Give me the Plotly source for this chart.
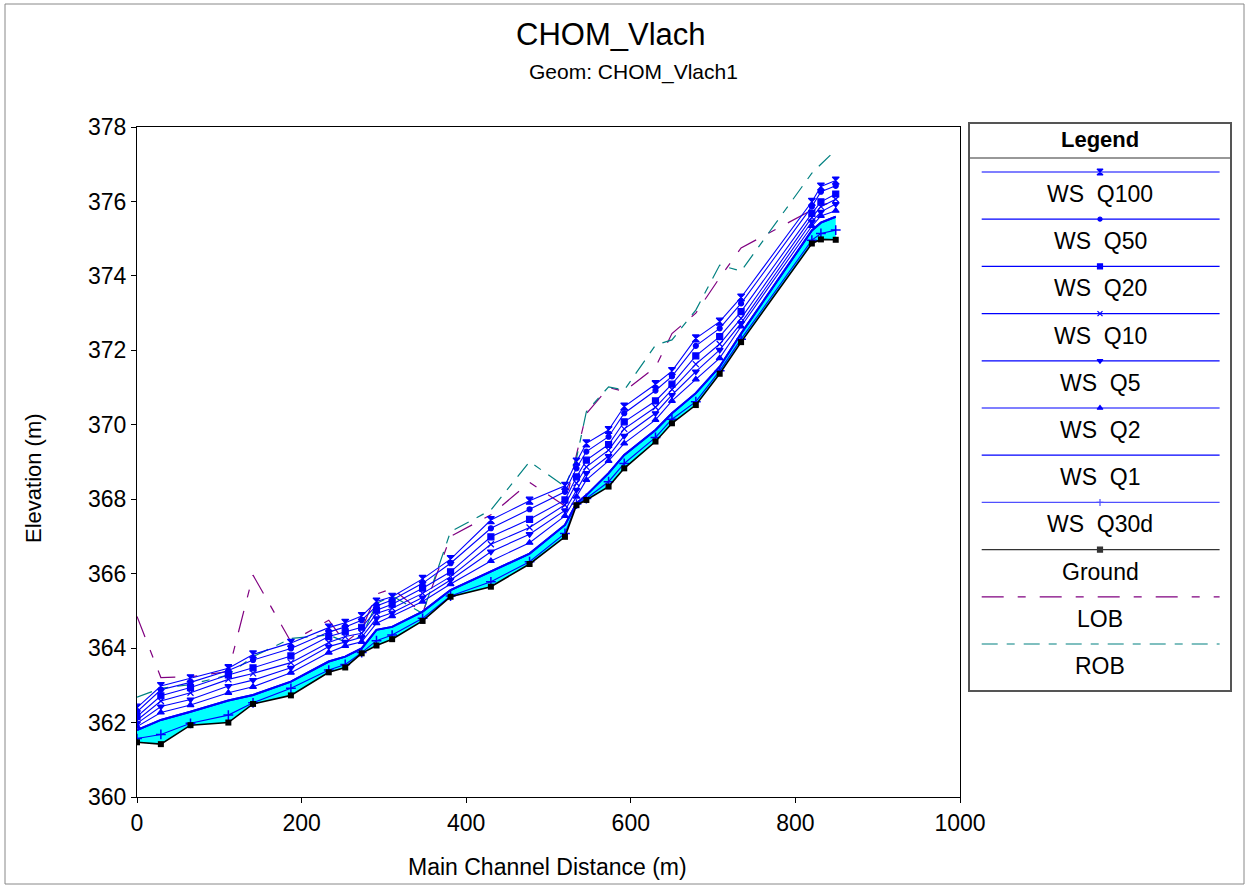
import plotly.graph_objects as go

stations = [0, 29, 65, 111, 141, 187, 233, 253, 273, 291, 310, 347, 381, 430, 477, 520,
            534, 546, 573, 592, 630, 650, 679, 708, 734, 820, 831, 849]

ground = [361.47, 361.42, 361.93, 362.00, 362.50, 362.73, 363.35, 363.48, 363.86, 364.07, 364.24,
          364.73, 365.38, 365.65, 366.26, 366.99, 367.84, 367.98, 368.34, 368.83, 369.55, 370.04,
          370.53, 371.37, 372.22, 374.87, 374.98, 374.97]
ws_q30d = [361.57, 361.68, 361.98, 362.20, 362.53, 362.92, 363.41, 363.56, 363.88, 364.20, 364.35,
           364.80, 365.40, 365.78, 366.32, 367.08, 367.87, 368.02, 368.47, 368.96, 369.66, 370.15,
           370.62, 371.45, 372.30, 374.96, 375.14, 375.23]
ws_q1 = [361.80, 362.07, 362.29, 362.59, 362.74, 363.10, 363.64, 363.77, 363.99, 364.49, 364.57,
         364.98, 365.56, 366.05, 366.54, 367.31, 367.89, 368.11, 368.70, 369.19, 369.86, 370.31,
         370.85, 371.56, 372.45, 375.22, 375.43, 375.59]
ws_q2 = [361.89, 362.27, 362.47, 362.80, 362.96, 363.34, 363.88, 364.06, 364.17, 364.67, 364.86,
         365.25, 365.72, 366.34, 366.83, 367.55, 368.07, 368.52, 369.03, 369.50, 370.13, 370.64,
         371.22, 371.79, 372.64, 375.34, 375.61, 375.75]
ws_q5 = [361.98, 362.43, 362.62, 362.98, 363.14, 363.47, 364.04, 364.17, 364.29, 364.80, 364.95,
         365.36, 365.83, 366.59, 367.06, 367.70, 368.25, 368.70, 369.16, 369.70, 370.31, 370.80,
         371.43, 372.01, 372.73, 375.46, 375.72, 375.93]
ws_q10 = [362.06, 362.58, 362.80, 363.16, 363.32, 363.61, 364.15, 364.31, 364.40, 364.93, 365.07,
          365.47, 365.92, 366.79, 367.24, 367.85, 368.43, 368.87, 369.32, 369.89, 370.47, 370.95,
          371.63, 372.17, 372.86, 375.57, 375.86, 376.06]
ws_q20 = [362.16, 362.72, 362.94, 363.28, 363.47, 363.79, 364.31, 364.44, 364.56, 365.02, 365.18,
          365.61, 366.05, 366.99, 367.46, 367.98, 368.60, 369.05, 369.47, 370.08, 370.64, 371.09,
          371.85, 372.37, 373.04, 375.68, 375.99, 376.20]
ws_q50 = [362.29, 362.88, 363.08, 363.40, 363.68, 363.99, 364.43, 364.57, 364.75, 365.13, 365.29,
          365.74, 366.28, 367.22, 367.73, 368.20, 368.83, 369.28, 369.68, 370.31, 370.92, 371.30,
          372.12, 372.59, 373.26, 375.86, 376.26, 376.42]
ws_q100 = [362.40, 362.98, 363.19, 363.46, 363.83, 364.14, 364.55, 364.68, 364.86, 365.25, 365.38,
           365.86, 366.39, 367.44, 367.96, 368.36, 369.01, 369.50, 369.86, 370.49, 371.09, 371.44,
           372.32, 372.77, 373.42, 375.99, 376.40, 376.56]
lob = [364.85, 363.21, 363.23, 363.37, 365.96, 364.17, 364.75, 364.15, 364.50, 365.45, 365.60,
       364.94, 367.00, 367.58, 368.45, 367.82, 369.20, 370.30, 371.00, 370.90, 371.55, 372.45,
       373.00, 373.95, 374.75, 375.75, 375.90, 376.00]
rob = [362.68, 362.92, 363.02, 363.28, 363.77, 364.26, 364.35, 364.17, 364.31, 365.20, 365.40,
       364.93, 367.13, 367.71, 369.01, 368.34, 369.10, 370.35, 371.02, 370.93, 372.14, 372.28,
       373.08, 374.29, 374.13, 376.76, 377.00, 377.38]

x_ticks = [0, 200, 400, 600, 800, 1000]
y_ticks = [360, 362, 364, 366, 368, 370, 372, 374, 376, 378]

BLUE = "#0000FF"
PURPLE = "#800080"
TEAL = "#008080"
FONT = "Liberation Sans, Arial, sans-serif"

ws_series = [
    ("WS  Q100", ws_q100, "hourglass", 7),
    ("WS  Q50", ws_q50, "circle", 5),
    ("WS  Q20", ws_q20, "square", 6),
    ("WS  Q10", ws_q10, "x-thin-open", 6),
    ("WS  Q5", ws_q5, "triangle-down", 6),
    ("WS  Q2", ws_q2, "triangle-up", 6),
]

W, H = 1249, 885


def px_x(p):
    return p / W


def px_y(p):
    return (H - p) / H


fig = go.Figure()

# water fill between ground and WS Q1
fig.add_trace(go.Scatter(x=stations, y=ground, mode="lines", line=dict(width=0, color="black"),
                         showlegend=False, hoverinfo="skip"))
fig.add_trace(go.Scatter(x=stations, y=ws_q1, mode="lines", fill="tonexty", fillcolor="#00FFFF",
                         line=dict(color=BLUE, width=2), showlegend=False))

# banks
fig.add_trace(go.Scatter(x=stations, y=lob, mode="lines",
                         line=dict(color=PURPLE, width=1.2, dash="22px,14px,8px,14px"),
                         showlegend=False))
fig.add_trace(go.Scatter(x=stations, y=rob, mode="lines",
                         line=dict(color=TEAL, width=1.2, dash="16px,9px,8px,9px"),
                         showlegend=False))

for name, vals, sym, size in ws_series:
    fig.add_trace(go.Scatter(x=stations, y=vals, mode="lines+markers", name=name,
                             line=dict(color=BLUE, width=1.1),
                             marker=dict(symbol=sym, size=size, color=BLUE,
                                         line=dict(color=BLUE, width=1.2)),
                             showlegend=False))

fig.add_trace(go.Scatter(x=stations, y=ws_q1, mode="lines", line=dict(color=BLUE, width=2),
                         showlegend=False))
fig.add_trace(go.Scatter(x=stations, y=ws_q30d, mode="lines+markers",
                         line=dict(color=BLUE, width=1.1),
                         marker=dict(symbol="cross-thin-open", size=7, color=BLUE,
                                     line=dict(color=BLUE, width=1.5)),
                         showlegend=False))
fig.add_trace(go.Scatter(x=stations, y=ground, mode="lines+markers",
                         line=dict(color="black", width=1.6),
                         marker=dict(symbol="square", size=6, color="black"),
                         showlegend=False))

# ---------- custom legend panel (axis 2, pixel-like coordinates) ----------
legend_items = [
    ("WS  Q100", BLUE, "solid", "hourglass", 6),
    ("WS  Q50", BLUE, "solid", "circle", 4),
    ("WS  Q20", BLUE, "solid", "square", 5),
    ("WS  Q10", BLUE, "solid", "x-thin-open", 5),
    ("WS  Q5", BLUE, "solid", "triangle-down", 5),
    ("WS  Q2", BLUE, "solid", "triangle-up", 5),
    ("WS  Q1", BLUE, "solid", None, 0),
    ("WS  Q30d", "#5050FF", "solid", "cross-thin-open", 5),
    ("Ground", "#333333", "solid", "square", 5),
    ("LOB", PURPLE, "22px,14px,8px,14px", None, 0),
    ("ROB", TEAL, "16px,9px,8px,9px", None, 0),
]

LEG_TOP, LEG_BOT = 124, 690
line_y0, step = 172, 47.2
annotations = []
annotations.append(dict(x=0.5, y=140, xref="x2", yref="y2", text="<b>Legend</b>",
                        xanchor="center", yanchor="middle",
                        showarrow=False, font=dict(size=22, color="black", family=FONT)))
fig.add_trace(go.Scatter(x=[0, 1], y=[158, 158], xaxis="x2", yaxis="y2", mode="lines",
                         line=dict(color="#333333", width=1.2), showlegend=False, hoverinfo="skip"))
for i, (lab, col, dash, sym, msize) in enumerate(legend_items):
    ly = line_y0 + i * step
    fig.add_trace(go.Scatter(x=[0.045, 0.96], y=[ly, ly], xaxis="x2", yaxis="y2", mode="lines",
                             line=dict(color=col, width=1.2, dash=dash),
                             showlegend=False, hoverinfo="skip"))
    if sym:
        fig.add_trace(go.Scatter(x=[0.5], y=[ly], xaxis="x2", yaxis="y2", mode="markers",
                                 marker=dict(symbol=sym, size=msize, color=col,
                                             line=dict(color=col, width=1.2)),
                                 showlegend=False, hoverinfo="skip"))
    annotations.append(dict(x=0.5, y=ly + 22, xref="x2", yref="y2", text=lab, showarrow=False,
                            xanchor="center", yanchor="middle",
                            font=dict(size=23, color="black", family=FONT)))

annotations.append(dict(x=px_x(611), y=px_y(35), xref="paper", yref="paper", text="CHOM_Vlach",
                        xanchor="center", yanchor="middle",
                        showarrow=False, font=dict(size=31, color="black", family=FONT)))
annotations.append(dict(x=px_x(634), y=px_y(72), xref="paper", yref="paper",
                        text="Geom: CHOM_Vlach1", showarrow=False,
                        xanchor="center", yanchor="middle",
                        font=dict(size=21, color="black", family=FONT)))
annotations.append(dict(x=px_x(547), y=px_y(867), xref="paper", yref="paper",
                        text="Main Channel Distance (m)", showarrow=False,
                        xanchor="center", yanchor="middle",
                        font=dict(size=23, color="black", family=FONT)))
annotations.append(dict(x=px_x(33), y=px_y(478), xref="paper", yref="paper",
                        text="Elevation (m)", showarrow=False, textangle=-90,
                        xanchor="center", yanchor="middle",
                        font=dict(size=22, color="black", family=FONT)))

fig.update_layout(
    width=W, height=H, autosize=False,
    margin=dict(l=0, r=0, t=0, b=0, pad=0),
    paper_bgcolor="white", plot_bgcolor="white",
    font=dict(family=FONT, color="black", size=22),
    showlegend=False,
    annotations=annotations,
    xaxis=dict(domain=[px_x(137), px_x(960)], range=[0, 1000], tickvals=x_ticks,
               showgrid=False, zeroline=False, showline=True, mirror=True, automargin=False,
               linecolor="black", linewidth=1.2, ticks="outside", ticklen=5,
               tickcolor="black", tickfont=dict(size=23)),
    yaxis=dict(domain=[px_y(797), px_y(127)], range=[360, 378], tickvals=y_ticks,
               showgrid=False, zeroline=False, showline=True, mirror=True, automargin=False,
               linecolor="black", linewidth=1.2, ticks="outside", ticklen=5,
               tickcolor="black", tickfont=dict(size=23)),
    xaxis2=dict(domain=[px_x(970), px_x(1230)], range=[0, 1], anchor="y2", automargin=False,
                showgrid=False, zeroline=False, showticklabels=False, ticks="",
                showline=True, mirror=True, linecolor="#555555", linewidth=1.5),
    yaxis2=dict(domain=[px_y(LEG_BOT), px_y(LEG_TOP)], range=[LEG_BOT, LEG_TOP], anchor="x2",
                automargin=False,
                showgrid=False, zeroline=False, showticklabels=False, ticks="",
                showline=True, mirror=True, linecolor="#555555", linewidth=1.5),
    shapes=[dict(type="rect", xref="paper", yref="paper",
                 x0=px_x(5), x1=px_x(1244), y0=px_y(884), y1=px_y(4),
                 line=dict(color="#888888", width=1), layer="below")],
)

fig.write_html("out.html")
